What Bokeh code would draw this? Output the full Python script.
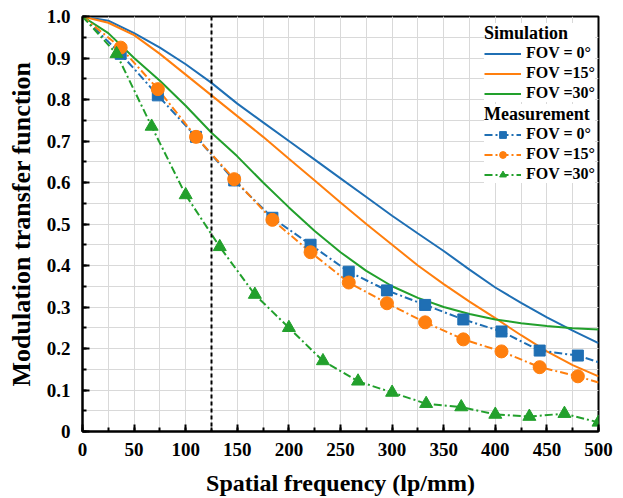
from bokeh.plotting import figure
from bokeh.models import Legend, LegendItem, FixedTicker, Span, NumeralTickFormatter
from bokeh.embed import file_html
from bokeh.resources import INLINE

# Simulation curves
sim_x = [0, 25, 50, 75, 100, 125, 150, 175, 200, 225, 250, 275, 300, 325, 350, 375, 400, 425, 450, 475, 500]
sim_0 = [1.0, 0.99, 0.96, 0.925, 0.885, 0.84, 0.79, 0.745, 0.70, 0.655, 0.61, 0.565, 0.52, 0.477, 0.435, 0.39, 0.347, 0.31, 0.275, 0.243, 0.213]
sim_15 = [1.0, 0.985, 0.955, 0.91, 0.86, 0.81, 0.76, 0.71, 0.657, 0.605, 0.552, 0.50, 0.45, 0.40, 0.355, 0.313, 0.273, 0.232, 0.193, 0.16, 0.133]
sim_30 = [1.0, 0.96, 0.90, 0.845, 0.785, 0.72, 0.663, 0.60, 0.54, 0.483, 0.432, 0.387, 0.35, 0.322, 0.30, 0.283, 0.27, 0.261, 0.254, 0.249, 0.246]

# Measurement
meas_x_sq = [0, 37, 73, 110, 147, 184, 221, 258, 295, 332, 369, 406, 443, 480, 500]
meas_0 = [1.0, 0.91, 0.81, 0.71, 0.605, 0.515, 0.45, 0.385, 0.34, 0.305, 0.27, 0.241, 0.195, 0.183, 0.167]
meas_15 = [1.0, 0.925, 0.825, 0.71, 0.608, 0.51, 0.432, 0.359, 0.309, 0.263, 0.222, 0.193, 0.155, 0.133, 0.118]
meas_x_tri = [0, 33, 67, 100, 133, 167, 200, 233, 267, 300, 333, 367, 400, 433, 467, 500]
meas_30 = [1.0, 0.91, 0.735, 0.57, 0.445, 0.33, 0.25, 0.17, 0.121, 0.094, 0.067, 0.059, 0.041, 0.036, 0.043, 0.022]

x_ticks = [0, 50, 100, 150, 200, 250, 300, 350, 400, 450, 500]
y_ticks = [0, 0.1, 0.2, 0.3, 0.4, 0.5, 0.6, 0.7, 0.8, 0.9, 1.0]
cutoff = 125

BLUE = "#1f6fb4"
ORANGE = "#ff7f0e"
GREEN = "#22a02c"
FONT = "Liberation Serif"

p = figure(width=623, height=498, x_range=(0, 500), y_range=(0, 1.0),
           output_backend="svg", toolbar_location=None,
           min_border_left=82, min_border_right=25, min_border_top=16, min_border_bottom=67)

# grid
for ax_grid in (p.xgrid, p.ygrid):
    ax_grid.grid_line_color = "#d9d9d9"
    ax_grid.grid_line_width = 1
    ax_grid.minor_grid_line_color = "#d9d9d9"
    ax_grid.minor_grid_line_width = 1

p.xaxis.ticker = FixedTicker(ticks=x_ticks, minor_ticks=list(range(0, 501, 25)))
p.yaxis.ticker = FixedTicker(ticks=y_ticks, minor_ticks=[i * 0.05 for i in range(21)])
p.yaxis.formatter = NumeralTickFormatter(format="0.0")
p.yaxis.major_label_overrides = {0: "0"}

for ax in (p.xaxis[0], p.yaxis[0]):
    ax.axis_line_width = 2
    ax.axis_line_color = "black"
    ax.major_tick_in = 7
    ax.major_tick_out = 0
    ax.minor_tick_in = 4
    ax.minor_tick_out = 0
    ax.major_tick_line_width = 2
    ax.minor_tick_line_width = 2
    ax.major_label_text_font = FONT
    ax.major_label_text_font_style = "bold"
    ax.major_label_text_font_size = "19px"
    ax.major_label_text_color = "black"
    ax.axis_label_text_font = FONT
    ax.axis_label_text_font_style = "bold"
    ax.axis_label_text_color = "black"

p.xaxis.axis_label_text_font_size = "24px"
p.yaxis.axis_label_text_font_size = "26px"
p.xaxis.major_label_standoff = 11
p.yaxis.major_label_standoff = 12
p.xaxis.axis_label = "Spatial frequency (lp/mm)"
p.yaxis.axis_label = "Modulation transfer function"
p.xaxis.axis_label_standoff = 11
p.yaxis.axis_label_standoff = 8

p.outline_line_color = "black"
p.outline_line_width = 2

p.add_layout(Span(location=cutoff, dimension="height", line_color="black",
                  line_width=2, line_dash="4 3"))

# simulation lines
s0 = p.line(sim_x, sim_0, line_color=BLUE, line_width=2)
s15 = p.line(sim_x, sim_15, line_color=ORANGE, line_width=2)
s30 = p.line(sim_x, sim_30, line_color=GREEN, line_width=2)

dash = "8 3 2 3"
m0l = p.line(meas_x_sq, meas_0, line_color=BLUE, line_width=2, line_dash=dash)
m15l = p.line(meas_x_sq, meas_15, line_color=ORANGE, line_width=2, line_dash=dash)
m30l = p.line(meas_x_tri, meas_30, line_color=GREEN, line_width=2, line_dash=dash)

m0s = p.scatter(meas_x_sq[1:-1], meas_0[1:-1], marker="square", size=11,
                fill_color=BLUE, line_color=BLUE)
m15s = p.scatter(meas_x_sq[1:-1], meas_15[1:-1], marker="circle", size=13,
                 fill_color=ORANGE, line_color=ORANGE)
m30s = p.scatter(meas_x_tri[1:], meas_30[1:], marker="triangle", size=13,
                 fill_color=GREEN, line_color=GREEN)

def style_legend(leg):
    leg.title_text_font = FONT
    leg.title_text_font_style = "bold"
    leg.title_text_font_size = "18px"
    leg.title_text_color = "black"
    leg.title_standoff = 0
    leg.label_text_font = FONT
    leg.label_text_font_style = "bold"
    leg.label_text_font_size = "16px"
    leg.label_text_color = "black"
    leg.label_height = 17
    leg.glyph_width = 37
    leg.glyph_height = 17
    leg.spacing = 2
    leg.padding = 3
    leg.margin = 0
    leg.border_line_color = None
    leg.background_fill_color = "white"
    leg.background_fill_alpha = 1.0

leg1 = Legend(items=[LegendItem(label="FOV = 0°", renderers=[s0]),
                     LegendItem(label="FOV =15°", renderers=[s15]),
                     LegendItem(label="FOV =30°", renderers=[s30])],
              title="Simulation", location=(402, 329))
leg2 = Legend(items=[LegendItem(label="FOV = 0°", renderers=[m0l, m0s]),
                     LegendItem(label="FOV =15°", renderers=[m15l, m15s]),
                     LegendItem(label="FOV =30°", renderers=[m30l, m30s])],
              title="Measurement", location=(402, 248))
style_legend(leg1)
style_legend(leg2)
p.add_layout(leg1, "center")
p.add_layout(leg2, "center")

open("out.html", "w").write(file_html(p, INLINE))
